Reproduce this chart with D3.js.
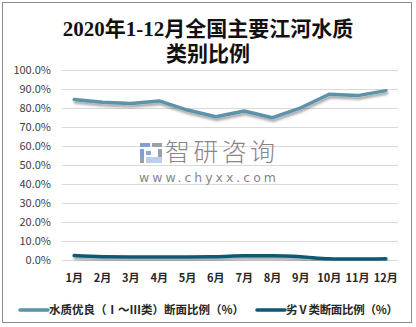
<!DOCTYPE html>
<html>
<head>
<meta charset="utf-8">
<script src="https://cdn.jsdelivr.net/npm/d3@7"></script>
<style>
  html, body { margin: 0; padding: 0; background: #fff; }
  svg { display: block; }
</style>
</head>
<body>
<svg id="chart" width="416" height="327"></svg>
<script>
// Monthly share of monitored river sections, 2020
const months = ["1月","2月","3月","4月","5月","6月","7月","8月","9月","10月","11月","12月"];
const goodShare = [84.3, 82.8, 82.2, 83.5, 78.7, 75.2, 78.2, 74.7, 79.9, 87.0, 86.3, 88.9];
const worstShare = [2.3, 1.7, 1.6, 1.6, 1.6, 1.7, 2.2, 2.2, 1.7, 0.6, 0.5, 0.6];
const yTicks = [0, 10, 20, 30, 40, 50, 60, 70, 80, 90, 100];
const seriesNames = ["水质优良（Ⅰ～Ⅲ类）断面比例（%）", "劣Ⅴ类断面比例（%）"];
const seriesColors = ["#5b93ab", "#0d5873"];
const titleLines = ["2020年1-12月全国主要江河水质", "类别比例"];

const svg = d3.select("#chart");
const sansFont = "'Noto Sans CJK SC', 'Noto Sans', sans-serif";

// outer frame
svg.append("rect")
  .attr("x", 2.5).attr("y", 2.5).attr("width", 409).attr("height", 320)
  .attr("fill", "#fff").attr("stroke", "#8c8c8c").attr("stroke-width", 1);

// title
svg.append("g").selectAll("text").data(titleLines).join("text")
  .attr("x", 208).attr("y", (d, i) => 36 + i * 25)
  .attr("text-anchor", "middle")
  .attr("font-family", "'Liberation Serif', 'Noto Sans CJK SC', serif")
  .attr("font-size", 21).attr("font-weight", "bold").attr("fill", "#111")
  .text(d => d);

const x = d3.scaleBand().domain(months).range([60, 400]);
const y = d3.scaleLinear().domain([0, 100]).range([260, 69.5]);

// horizontal grid
svg.append("g").selectAll("line").data(yTicks).join("line")
  .attr("x1", 62).attr("x2", 398)
  .attr("y1", d => Math.round(y(d)) + 0.5).attr("y2", d => Math.round(y(d)) + 0.5)
  .attr("stroke", "#d9d9d9").attr("stroke-width", 1);

// y axis labels
const yAxis = svg.append("g").attr("transform", "translate(51,0)")
  .call(d3.axisLeft(y).tickValues(yTicks).tickSize(0).tickPadding(0).tickFormat(d => d.toFixed(1) + "%"));
yAxis.select(".domain").remove();
yAxis.selectAll("text")
  .attr("font-family", sansFont).attr("font-size", 11).attr("fill", "#404040");

// x axis labels
const xAxis = svg.append("g").attr("transform", "translate(0,270)")
  .call(d3.axisBottom(x).tickSize(0).tickPadding(0));
xAxis.select(".domain").remove();
xAxis.selectAll("text")
  .attr("dy", "1.05em")
  .attr("font-family", sansFont).attr("font-size", 11).attr("font-weight", "bold").attr("fill", "#262626");

// watermark
const wm = svg.append("g");
const logo = [
  [140, 143, 10, 4, "#7fa2d6"], [140, 149, 4, 14, "#7fa2d6"], [146, 151, 5, 4, "#8aa8d8"],
  [152, 143, 10, 4, "#9aa0a8"], [158, 149, 4, 8, "#9aa0a8"], [146, 157, 16, 6, "#bcd0ee"],
  [140, 157, 4, 6, "#9aa0a8"]
];
wm.selectAll("rect").data(logo).join("rect")
  .attr("x", d => d[0]).attr("y", d => d[1]).attr("width", d => d[2]).attr("height", d => d[3])
  .attr("fill", d => d[4]);
wm.append("text").attr("x", 165).attr("y", 161)
  .attr("font-family", sansFont).attr("font-size", 25).attr("font-weight", 300)
  .attr("fill", "#8a8585").attr("textLength", 110).text("智研咨询");
wm.append("text").attr("x", 139).attr("y", 182)
  .attr("font-family", "'DejaVu Sans', sans-serif").attr("font-size", 12.5)
  .attr("fill", "#8a8585").attr("textLength", 137).text("www.chyxx.com");

// drop shadow for lines
const defs = svg.append("defs");
const f = defs.append("filter").attr("id", "shadow")
  .attr("x", "-5%").attr("y", "-50%").attr("width", "110%").attr("height", "200%");
f.append("feDropShadow").attr("dx", 1).attr("dy", 2.5).attr("stdDeviation", 1.3)
  .attr("flood-color", "#000").attr("flood-opacity", 0.35);

const cx = d => x(d) + x.bandwidth() / 2;

const lineGood = d3.line().x((d, i) => cx(months[i])).y(d => y(d));
const lineWorst = d3.line().x((d, i) => cx(months[i])).y(d => y(d)).curve(d3.curveMonotoneX);

svg.append("path").datum(goodShare)
  .attr("d", lineGood).attr("fill", "none")
  .attr("stroke", seriesColors[0]).attr("stroke-width", 3.5)
  .attr("stroke-linejoin", "round").attr("stroke-linecap", "round")
  .attr("filter", "url(#shadow)");

svg.append("path").datum(worstShare)
  .attr("d", lineWorst).attr("fill", "none")
  .attr("stroke", seriesColors[1]).attr("stroke-width", 3.5)
  .attr("stroke-linejoin", "round").attr("stroke-linecap", "round")
  .attr("filter", "url(#shadow)");

// legend
const legendItems = [
  { x: 20, name: seriesNames[0], color: seriesColors[0], w: 195 },
  { x: 257, name: seriesNames[1], color: seriesColors[1], w: 112 }
];
const lg = svg.append("g").selectAll("g").data(legendItems).join("g")
  .attr("transform", d => `translate(${d.x},310)`);
lg.append("line").attr("x1", 0).attr("x2", 28).attr("y1", 0).attr("y2", 0)
  .attr("stroke", d => d.color).attr("stroke-width", 3.5).attr("stroke-linecap", "round");
lg.append("text").attr("x", 29).attr("y", 4)
  .attr("font-family", sansFont).attr("font-size", 11.5).attr("font-weight", "bold").attr("fill", "#262626")
  .attr("textLength", d => d.w).attr("lengthAdjust", "spacing")
  .text(d => d.name);
</script>
</body>
</html>
